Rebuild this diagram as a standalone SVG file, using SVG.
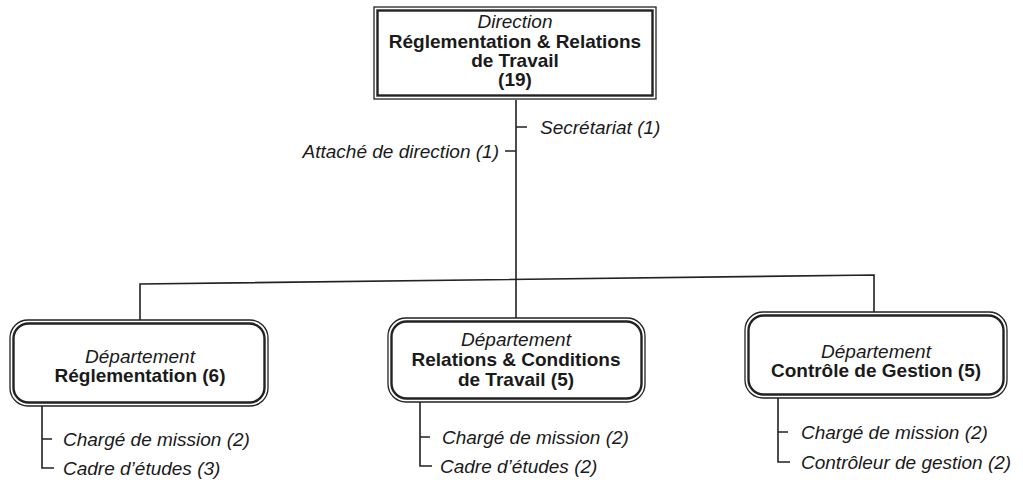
<svg xmlns="http://www.w3.org/2000/svg" width="1023" height="483" viewBox="0 0 1023 483">
<style>
text{font-family:"Liberation Sans",Arial,sans-serif;font-size:19px;fill:#1a1a1a}
.i{font-style:italic}
.b{font-weight:bold}
.c{text-anchor:middle}
.o{fill:#fff;stroke:#222;stroke-width:1.3}
.n{fill:none;stroke:#222;stroke-width:2.4}
.l{fill:none;stroke:#222;stroke-width:1.6}
</style>
<rect width="1023" height="483" fill="#fff"/>
<g id="connectors">
<path class="l" d="M516 100V318M516 127H527M505 151H516"/>
<path class="l" d="M140 320V284L874 275V312"/>
<path class="l" d="M42 406V468H54M42 439H52"/>
<path class="l" d="M420 402V466H432M420 437H430"/>
<path class="l" d="M778 398V462H790M778 432H788"/>
</g>
<g id="direction">
<rect class="o" x="374" y="7" width="282" height="92"/>
<rect class="n" x="377.5" y="10.5" width="275" height="85"/>
<text class="i c" x="515" y="28">Direction</text>
<text class="b c" x="515" y="48">Réglementation &amp; Relations</text>
<text class="b c" x="515" y="67">de Travail</text>
<text class="b c" x="515" y="86">(19)</text>
</g>
<g id="secretariat"><text class="i" x="540" y="134">Secrétariat (1)</text></g>
<g id="attache"><text class="i" x="499" y="158" text-anchor="end">Attaché de direction (1)</text></g>
<g id="dep-reglementation">
<rect class="o" x="10" y="320" width="258" height="86" rx="18"/>
<rect class="n" x="13.5" y="323.5" width="251" height="79" rx="15"/>
<text class="i c" x="140" y="363">Département</text>
<text class="b c" x="140" y="382">Réglementation (6)</text>
</g>
<g id="dep-relations">
<rect class="o" x="388" y="318" width="257" height="84" rx="18"/>
<rect class="n" x="391.5" y="321.5" width="250" height="77" rx="15"/>
<text class="i c" x="516" y="346">Département</text>
<text class="b c" x="516" y="366">Relations &amp; Conditions</text>
<text class="b c" x="516" y="386">de Travail (5)</text>
</g>
<g id="dep-controle">
<rect class="o" x="745" y="312" width="262" height="86" rx="18"/>
<rect class="n" x="748.5" y="315.5" width="255" height="79" rx="15"/>
<text class="i c" x="876" y="358">Département</text>
<text class="b c" x="876" y="377">Contrôle de Gestion (5)</text>
</g>
<g id="sub-left">
<text class="i" x="63" y="446">Chargé de mission (2)</text>
<text class="i" x="63" y="475">Cadre d’études (3)</text>
</g>
<g id="sub-middle">
<text class="i" x="442" y="444">Chargé de mission (2)</text>
<text class="i" x="440" y="473">Cadre d’études (2)</text>
</g>
<g id="sub-right">
<text class="i" x="801" y="439">Chargé de mission (2)</text>
<text class="i" x="801" y="469">Contrôleur de gestion (2)</text>
</g>
</svg>
